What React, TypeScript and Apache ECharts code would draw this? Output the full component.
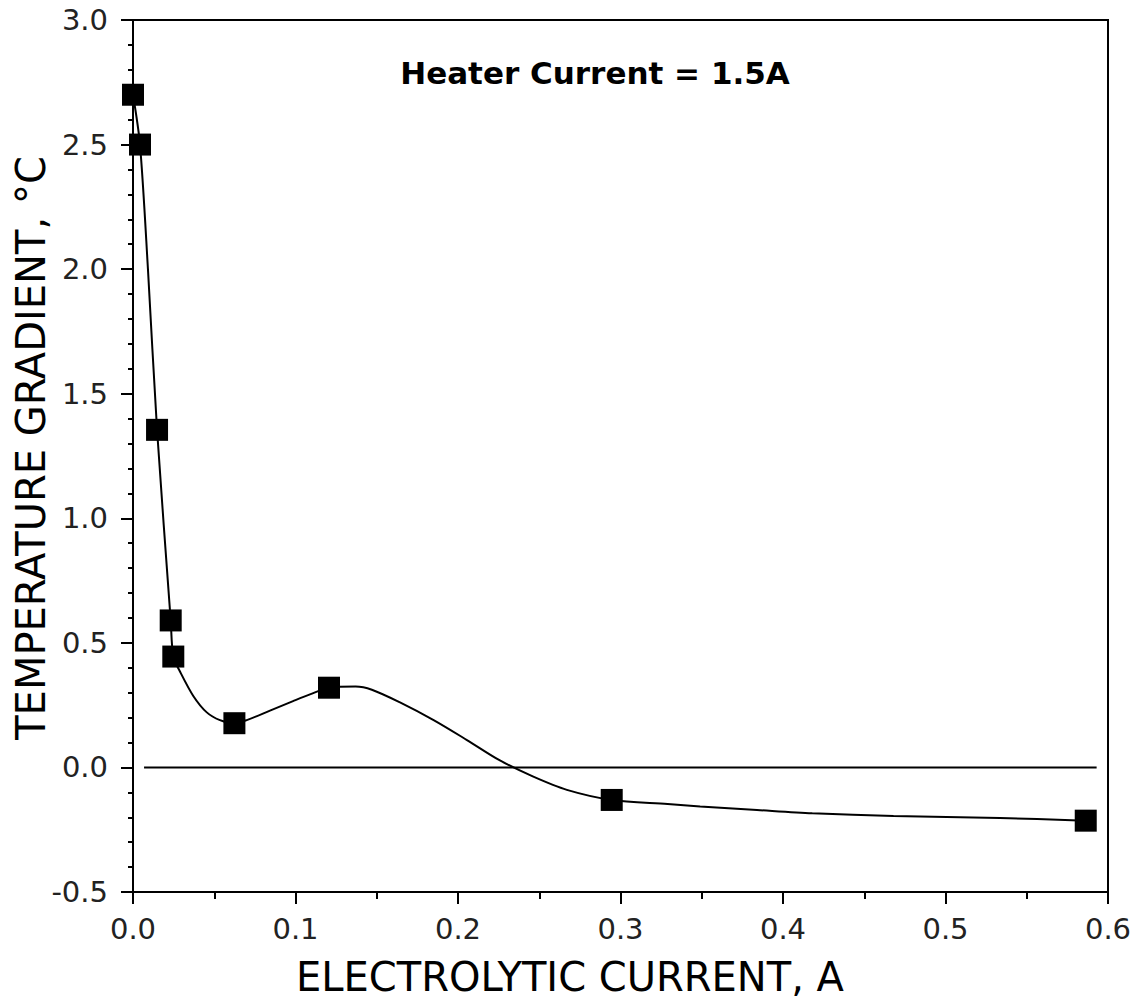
import React, { useEffect, useRef } from "react";
import * as echarts from "echarts";

// measured points (markers)
const current = [0.0, 0.0043, 0.0148, 0.0232, 0.0248, 0.0624, 0.1206, 0.2946, 0.5863];
const gradient = [2.7, 2.5, 1.355, 0.59, 0.445, 0.1775, 0.32, -0.1305, -0.2137];

// fitted curve
const curveCurrent = [
  0.0, 0.0043, 0.0092, 0.0148, 0.0232, 0.0248, 0.0289, 0.0371, 0.0454, 0.0535,
  0.0624, 0.07, 0.0843, 0.0985, 0.1089, 0.1206, 0.137, 0.147, 0.164, 0.185, 0.2055, 0.2258,
  0.246, 0.267, 0.2946, 0.329, 0.349, 0.384, 0.418, 0.468, 0.5335, 0.5863,
];
const curveGradient = [
  2.7, 2.5, 2.0, 1.355, 0.59, 0.445, 0.385, 0.287, 0.221, 0.19,
  0.1775, 0.19, 0.228, 0.266, 0.293, 0.32, 0.325, 0.312, 0.262, 0.19, 0.11, 0.028,
  -0.036, -0.09, -0.1305, -0.147, -0.157, -0.171, -0.184, -0.195, -0.203, -0.2137,
];

// zero reference line
const zeroLineX = [0.0068, 0.593];
const zeroLineY = [0, 0];

const xTicks = [0, 0.1, 0.2, 0.3, 0.4, 0.5, 0.6];
const yTicks = [-0.5, 0, 0.5, 1.0, 1.5, 2.0, 2.5, 3.0];

const heaterLabel = "Heater Current = 1.5A";
const xTitle = "ELECTROLYTIC CURRENT, A";
const yTitle = "TEMPERATURE GRADIENT, °C";

const App: React.FC = () => {
  const chartRef = useRef<HTMLDivElement>(null);

  useEffect(() => {
    document.body.style.margin = "0";
    const chart = echarts.init(chartRef.current, null, { renderer: "svg" });
    const labelFont = { fontFamily: "DejaVu Sans", fontSize: 29, color: "#222" };
    const black = { color: "#000", width: 2 };

    chart.setOption({
      animation: false,
      grid: {
        left: 133,
        right: 28,
        top: 20,
        bottom: 112,
        show: true,
        borderColor: "#000",
        borderWidth: 2,
      },
      xAxis: {
        type: "value",
        min: xTicks[0],
        max: xTicks[xTicks.length - 1],
        interval: 0.1,
        splitLine: { show: false },
        axisLine: { onZero: false, lineStyle: black },
        axisTick: { length: 12, lineStyle: black },
        minorTick: { show: true, splitNumber: 2, length: 7, lineStyle: black },
        axisLabel: { ...labelFont, margin: 22, formatter: (v: number) => v.toFixed(1) },
      },
      yAxis: {
        type: "value",
        min: yTicks[0],
        max: yTicks[yTicks.length - 1],
        interval: 0.5,
        splitLine: { show: false },
        axisLine: { onZero: false, lineStyle: black },
        axisTick: { length: 12, lineStyle: black },
        minorTick: { show: true, splitNumber: 5, length: 5, lineStyle: black },
        axisLabel: { ...labelFont, margin: 25, formatter: (v: number) => v.toFixed(1) },
      },
      graphic: [
        {
          type: "text",
          x: 595,
          y: 73,
          style: {
            text: heaterLabel,
            fontFamily: "DejaVu Sans",
            fontWeight: "bold",
            fontSize: 31,
            fill: "#000",
            align: "center",
            verticalAlign: "middle",
          },
        },
        {
          type: "text",
          x: 570,
          y: 977,
          style: {
            text: xTitle,
            fontFamily: "DejaVu Sans",
            fontSize: 40,
            fill: "#000",
            align: "center",
            verticalAlign: "middle",
          },
        },
        {
          type: "text",
          x: 31,
          y: 448,
          rotation: Math.PI / 2,
          style: {
            text: yTitle,
            fontFamily: "DejaVu Sans",
            fontSize: 40,
            fill: "#000",
            align: "center",
            verticalAlign: "middle",
          },
        },
      ],
      series: [
        {
          name: "zero",
          type: "line",
          data: zeroLineX.map((x, i) => [x, zeroLineY[i]]),
          symbol: "none",
          lineStyle: black,
          silent: true,
        },
        {
          name: "fit",
          type: "line",
          data: curveCurrent.map((x, i) => [x, curveGradient[i]]),
          smooth: 0.3,
          symbol: "none",
          lineStyle: black,
          silent: true,
        },
        {
          name: "measured",
          type: "scatter",
          data: current.map((x, i) => [x, gradient[i]]),
          symbol: "rect",
          symbolSize: 22,
          itemStyle: { color: "#000", opacity: 1 },
        },
      ],
    });
    return () => {
      chart.dispose();
    };
  }, []);

  return <div ref={chartRef} style={{ width: 1136, height: 1004 }}></div>;
};

export default App;
